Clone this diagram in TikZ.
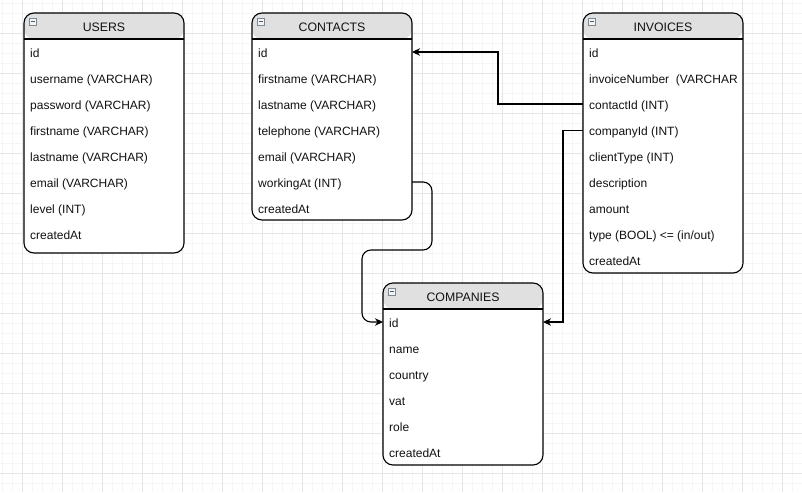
\documentclass[tikz,border=0pt]{standalone}
\usepackage{fontspec}
\setmainfont{Liberation Sans}
\usetikzlibrary{arrows.meta,calc}

\definecolor{gridminor}{HTML}{F5F5F5}
\definecolor{gridmajor}{HTML}{E6E6E6}
\definecolor{hdrgray}{HTML}{E0E0E0}
\definecolor{txt}{HTML}{111111}
\definecolor{iconedge}{HTML}{7A8794}
\definecolor{iconfill}{HTML}{F2F4F6}

\tikzset{
  x=1pt, y=-1pt,
  minorline/.style={draw=gridminor, line width=0.8pt},
  majorline/.style={draw=gridmajor, line width=0.9pt},
  tbl/.style={draw=black, fill=white, line width=1.1pt, rounded corners=10pt,
    minimum width=160pt, anchor=north west, inner sep=0pt, outer sep=0pt,
    path picture={\fill[hdrgray] (path picture bounding box.north west)
      rectangle ([yshift=-26pt]path picture bounding box.north east);}},
  hdrline/.style={draw=black, line width=1.1pt},
  title/.style={font=\fontsize{12.3}{14}\selectfont, text=txt, inner sep=0pt},
  row/.style={font=\fontsize{12}{14}\selectfont, text=txt, anchor=west,
    inner sep=0pt, text height=8.6pt, text depth=0pt},
  minusicon/.style={draw=iconedge, fill=iconfill, line width=0.6pt,
    minimum width=7pt, minimum height=7pt, inner sep=0pt},
  conn/.style={draw=black, line width=1.1pt,
    -{Stealth[length=8pt,width=7.5pt,inset=2.5pt]}},
}

% one entity: name, title, left, top, height
\newcommand\entitybox[5]{%
  \node[tbl, minimum height=#5pt] (#1) at (#3,#4) {};
  \draw[hdrline] ([yshift=-26pt]#1.north west) -- ([yshift=-26pt]#1.north east);
  \node[title] (#1-title) at ([yshift=-14.6pt]#1.north) {#2};
  \node[minusicon] (#1-icon) at ([xshift=8.5pt,yshift=-8.5pt]#1.north west) {};
  \draw[draw=iconedge!70!black, line width=0.7pt]
    ([xshift=-2pt]#1-icon.center) -- ([xshift=2pt]#1-icon.center);
}

\begin{document}
\begin{tikzpicture}
\useasboundingbox (0,0) rectangle (802,492);
\fill[white] (0,0) rectangle (802,492);

% background grid
\foreach \gx in {2,12,...,802} \draw[minorline] (\gx,0) -- (\gx,492);
\foreach \gy in {3,13,...,492} \draw[minorline] (0,\gy) -- (802,\gy);
\foreach \gx in {22,62,...,802} \draw[majorline] (\gx,0) -- (\gx,492);
\foreach \gy in {33,73,...,492} \draw[majorline] (0,\gy) -- (802,\gy);

% entities
\entitybox{users}{USERS}{24}{13}{240}
\foreach \t [count=\i from 0] in {id, username (VARCHAR), password (VARCHAR),
    firstname (VARCHAR), lastname (VARCHAR), email (VARCHAR), level (INT), createdAt}
  \node[row] (users-\i) at (30,52.8+26*\i) {\t};

\entitybox{contacts}{CONTACTS}{252}{13}{207}
\foreach \t [count=\i from 0] in {id, firstname (VARCHAR), lastname (VARCHAR),
    telephone (VARCHAR), email (VARCHAR), workingAt (INT), createdAt}
  \node[row] (contacts-\i) at (258,52.8+26*\i) {\t};

\entitybox{inv}{INVOICES}{583}{13}{260}
\foreach \t [count=\i from 0] in {id, invoiceNumber~ (VARCHAR, contactId (INT),
    companyId (INT), clientType (INT), description, amount,
    type (BOOL) <= (in/out), createdAt}
  \node[row] (inv-\i) at (589,52.8+26*\i) {\t};

\entitybox{comp}{COMPANIES}{383}{283}{182}
\foreach \t [count=\i from 0] in {id, name, country, vat, role, createdAt}
  \node[row] (comp-\i) at (389,322.8+26*\i) {\t};

% relations
\draw[conn] ([yshift=0.8pt]inv.west |- inv-2) -- ++(-85,0) |- ([yshift=0.8pt]contacts.east |- contacts-0);
\draw[conn] (inv.west |- inv-3) -- ++(-20,0) |- ([yshift=0.8pt]comp.east |- comp-0);
\draw[conn, rounded corners=9pt] ([yshift=0.8pt]contacts.east |- contacts-5) -- ++(20,0)
  -- ++(0,68) -- ++(-70,0) |- ([yshift=0.8pt]comp.west |- comp-0);
\end{tikzpicture}
\end{document}
